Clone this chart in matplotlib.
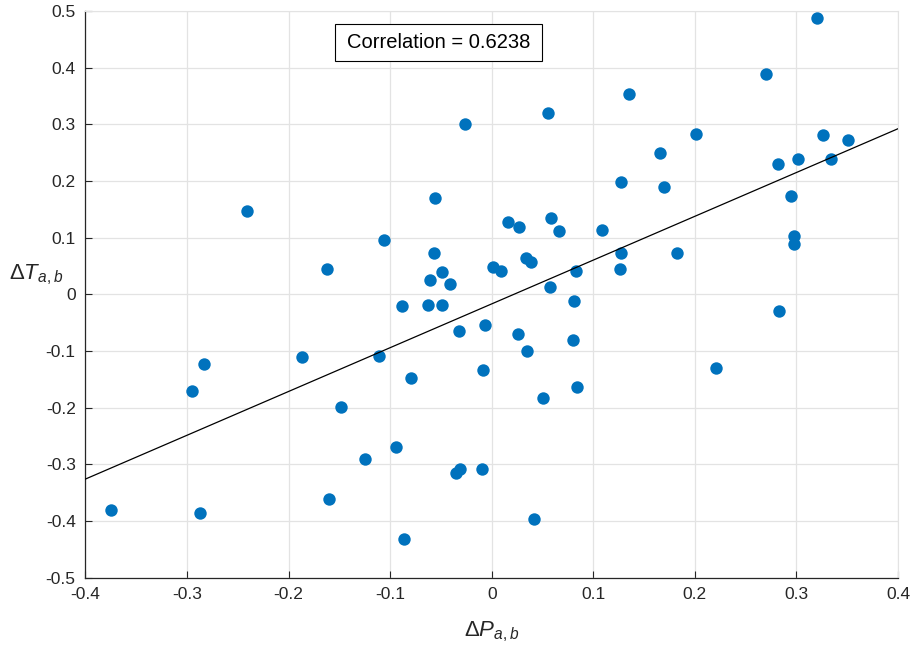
import matplotlib
matplotlib.use("Agg")
import matplotlib.pyplot as plt
from matplotlib.patches import Rectangle
import numpy as np

plt.rcParams['font.family'] = ['Liberation Sans', 'DejaVu Sans']
plt.rcParams['mathtext.fontset'] = 'custom'
plt.rcParams['mathtext.rm'] = 'Liberation Sans'
plt.rcParams['mathtext.it'] = 'Liberation Sans:italic'
plt.rcParams['axes.unicode_minus'] = False

# delta P (x) and delta T (y) values
dP = [0.3198, 0.270, 0.1351, 0.0557, 0.2014, 0.3264, 0.3507, 0.1653, 0.3018, 0.3336,
      0.2815, 0.1273, 0.1693, 0.2949, 0.0157, 0.0269, 0.058, 0.0662, 0.1083, 0.2972,
      0.2972, 0.1273, 0.1821, 0.001, 0.0094, 0.034, 0.0384, 0.0827, 0.1263, 0.0577,
      0.0807, 0.2828, -0.0066, 0.0256, 0.0803, 0.0344, 0.2208, -0.0089, 0.0837, 0.0505,
      -0.0092, 0.0413, -0.0266, -0.0561, -0.2408, -0.1063, -0.0565, -0.1621, -0.0486, -0.061,
      -0.041, -0.0886, -0.0624, -0.0492, -0.0325, -0.1112, -0.187, -0.2832, -0.2953, -0.0794,
      -0.148, -0.0942, -0.1244, -0.0354, -0.0315, -0.1601, -0.3747, -0.2871, -0.0866]
dT = [0.488, 0.388, 0.354, 0.3206, 0.2835, 0.2818, 0.2729, 0.2489, 0.2388, 0.2388,
      0.2295, 0.1982, 0.1894, 0.174, 0.128, 0.118, 0.135, 0.1117, 0.1129, 0.1029,
      0.0882, 0.0724, 0.0724, 0.0488, 0.0417, 0.0646, 0.0576, 0.0417, 0.0447, 0.0134,
      -0.0113, -0.0295, -0.0542, -0.070, -0.0813, -0.1006, -0.1295, -0.1336, -0.1642, -0.1831,
      -0.3084, -0.3967, 0.3012, 0.1694, 0.147, 0.0958, 0.0724, 0.0447, 0.0399, 0.0258,
      0.0187, -0.0201, -0.0183, -0.0194, -0.0642, -0.1083, -0.1107, -0.123, -0.1701, -0.1483,
      -0.1995, -0.2695, -0.2902, -0.3149, -0.3084, -0.3608, -0.3802, -0.386, -0.4325]
corr_text = "Correlation = 0.6238"

dP = np.array(dP)
dT = np.array(dT)
p = np.polyfit(dP, dT, 1)
xl = np.array([-0.4, 0.4])

fig = plt.figure(figsize=(9.13, 6.51), dpi=100)
ax = fig.add_axes([0.0936, 0.1129, 0.89, 0.8702])

ax.grid(True, color='#e3e3e3', linewidth=0.9)
ax.set_axisbelow(True)
ax.scatter(dP, dT, s=80, color='#0072BD', zorder=3, linewidths=0)
ax.plot(xl, np.polyval(p, xl), color='black', linewidth=0.9, zorder=4)

ax.set_xlim(-0.4, 0.4)
ax.set_ylim(-0.5, 0.5)
ax.set_xticks(np.arange(-0.4, 0.41, 0.1))
ax.set_yticks(np.arange(-0.5, 0.51, 0.1))
ax.set_xticklabels(['-0.4', '-0.3', '-0.2', '-0.1', '0', '0.1', '0.2', '0.3', '0.4'])
ax.set_yticklabels(['-0.5', '-0.4', '-0.3', '-0.2', '-0.1', '0', '0.1', '0.2', '0.3', '0.4', '0.5'])
ax.tick_params(direction='in', length=5, width=0.8, colors='#262626', labelsize=12.5, pad=7)

for s in ['top', 'right']:
    ax.spines[s].set_color('#e3e3e3')
for s in ['left', 'bottom']:
    ax.spines[s].set_color('#262626')
    ax.spines[s].set_linewidth(0.9)

ax.set_xlabel(r'$\Delta P_{a,b}$', fontsize=16, color='#262626', ha='center', va='baseline')
ax.xaxis.set_label_coords(0.5, -0.1045)
ax.set_ylabel(r'$\Delta T_{a,b}$', fontsize=16, color='#262626', rotation=0,
              ha='right', va='baseline')
ax.yaxis.set_label_coords(-0.0277, 0.527)

ax.add_patch(Rectangle((0.3071, 0.9123), 0.2548, 0.0648, transform=ax.transAxes,
                       facecolor='white', edgecolor='black', linewidth=0.8, zorder=5))
ax.text(0.4345, 0.9447, corr_text, transform=ax.transAxes, ha='center', va='center',
        fontsize=14.5, color='black', zorder=6)

fig.savefig('out.png', dpi=100)
